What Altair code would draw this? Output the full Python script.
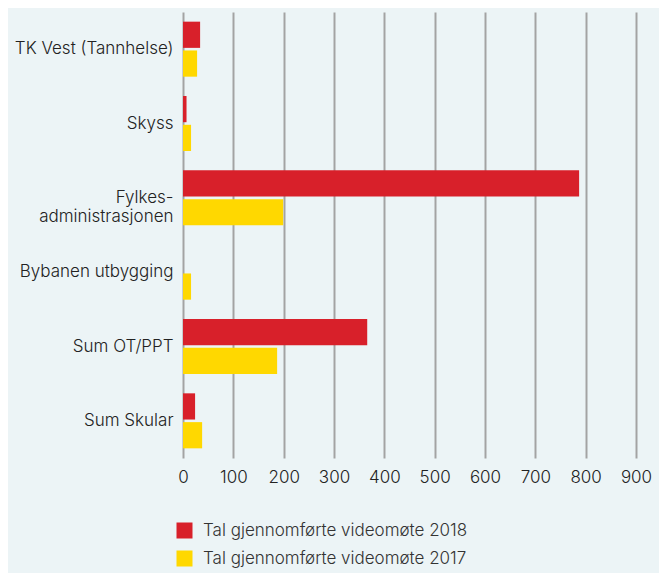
import altair as alt
import pandas as pd

categories = ["TK Vest (Tannhelse)", "Skyss", "Fylkes-|administrasjonen",
              "Bybanen utbygging", "Sum OT/PPT", "Sum Skular"]
series = ["Tal gjennomførte videomøte 2018", "Tal gjennomførte videomøte 2017"]
values_2018 = [34, 7, 787, 0, 366, 24]
values_2017 = [28, 16, 199, 16, 187, 38]
x_ticks = [0, 100, 200, 300, 400, 500, 600, 700, 800, 900]

rows = []
for c, a, b in zip(categories, values_2018, values_2017):
    rows.append({"kategori": c, "serie": series[0], "verdi": a})
    rows.append({"kategori": c, "serie": series[1], "verdi": b})
df = pd.DataFrame(rows)

FONT = "Inter"
chart = alt.Chart(df).mark_bar().encode(
    x=alt.X("verdi:Q", scale=alt.Scale(domain=[0, 900], nice=False),
            axis=alt.Axis(values=x_ticks, title=None, grid=True, gridColor="#a3a3a3",
                          gridWidth=2, domain=False, ticks=False, labelFontSize=17,
                          labelColor="#222222", labelFont=FONT, labelPadding=11,
                          labelFontWeight=300, labelFlush=False)),
    y=alt.Y("kategori:N", sort=categories,
            scale=alt.Scale(paddingInner=0.26, paddingOuter=0.13),
            axis=alt.Axis(title=None, domain=False, ticks=False, labelFontSize=17,
                          labelColor="#222222", labelFont=FONT, labelPadding=10,
                          labelLimit=0, labelFontWeight=300,
                          labelExpr="split(datum.label, '|')", labelLineHeight=19)),
    yOffset=alt.YOffset("serie:N", sort=series, scale=alt.Scale(paddingInner=0.09)),
    color=alt.Color("serie:N", sort=series,
                    scale=alt.Scale(domain=series, range=["#d8202a", "#ffd800"]),
                    legend=alt.Legend(title=None, orient="none", legendX=-7, legendY=510,
                                      symbolType="square", symbolSize=256,
                                      symbolStrokeWidth=0, labelFontSize=17,
                                      labelFont=FONT, labelColor="#333333",
                                      labelFontWeight=300,
                                      labelLimit=0, rowPadding=10, labelOffset=10)),
).properties(
    width=453, height=446,
    autosize=alt.AutoSizeParams(type="none"),
    padding={"left": 175, "top": 4, "right": 23, "bottom": 115},
    background="#ecf4f6",
).configure_view(stroke=None)

chart.save("out.html", embed_options={"renderer": "svg", "actions": False})
